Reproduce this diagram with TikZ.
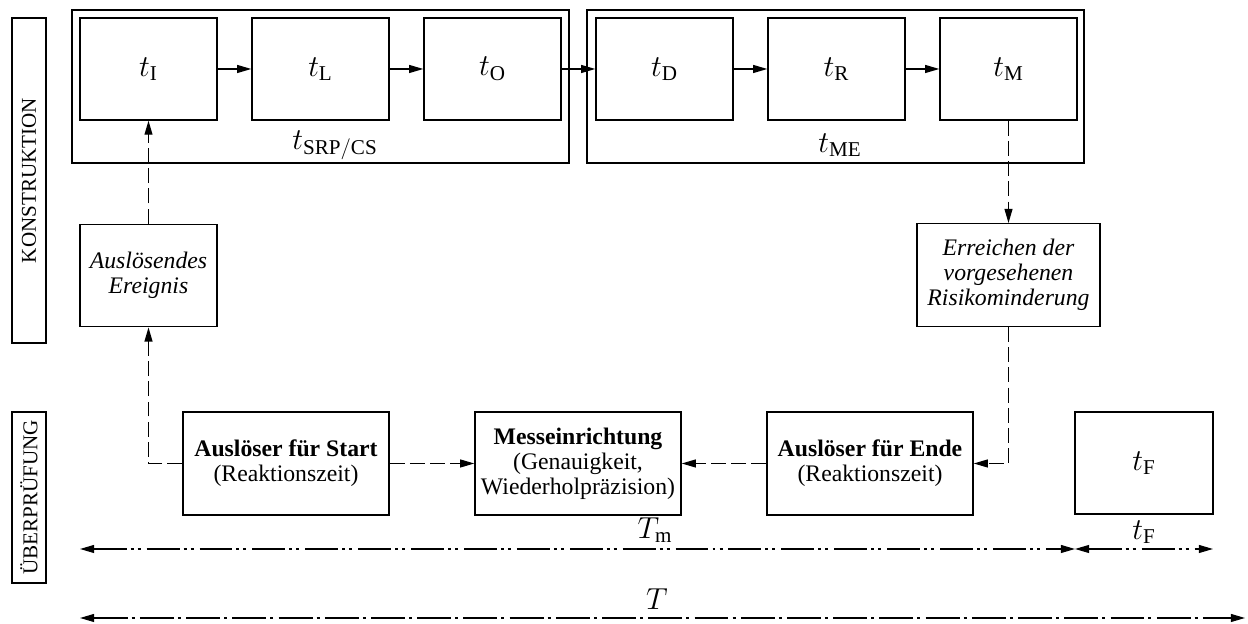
\documentclass[tikz,border=0pt]{standalone}
\usepackage{fontspec}
\setmainfont{Liberation Serif}
\usepackage{tikz}
\usetikzlibrary{
  arrows.meta,
  calc,
  positioning
}

\begin{document}
\begin{tikzpicture}[
  tbox/.style={rectangle, draw, line width=0.8pt, minimum width=2.74cm, minimum height=2.04cm, font=\fontsize{17.28}{20}\selectfont, inner sep=2pt},
  grp/.style={rectangle, draw, line width=0.8pt, minimum width=9.94cm, minimum height=3.06cm},
  evt/.style={rectangle, draw, line width=0.8pt, minimum height=2.05cm, align=center, font=\fontsize{13.5}{14.3}\selectfont\itshape, inner sep=2pt},
  chk/.style={rectangle, draw, line width=0.8pt, minimum width=4.12cm, minimum height=2.06cm, align=center, font=\fontsize{13.5}{14.3}\selectfont, inner sep=2pt},
  lane/.style={rectangle, draw, line width=0.8pt, rotate=90, minimum height=0.68cm, inner sep=1pt, font=\fontsize{12}{14}\selectfont},
  lbl/.style={font=\fontsize{17.28}{20}\selectfont, inner sep=1pt},
  arrow/.style={-{Triangle[length=8pt, width=4.5pt]}, line width=0.7pt},
  dasharrow/.style={arrow, dash pattern=on 8.5pt off 3pt},
  dimline/.style={{Triangle[length=8pt, width=4.5pt]}-{Triangle[length=8pt, width=4.5pt]}, line width=0.7pt},
  dimdots/.style={dimline, dash pattern=on 18.7pt off 2.3pt on 1.7pt off 2.3pt on 1.7pt off 3.4pt},
  dimdot/.style={dimline, dash pattern=on 19.3pt off 2.3pt on 1.7pt off 3pt},
]
\useasboundingbox (0, 0) rectangle (24.96, 12.48);

% Lanes
\node[lane, minimum width=6.5cm] (konst) at (0.58, 8.87) {KONSTRUKTION};
\node[lane, minimum width=3.42cm] (pruef) at (0.58, 2.53) {ÜBERPRÜFUNG};

% Groups
\node[grp] (srp) at (6.41, 10.75) {};
\node[grp] (me) at (16.71, 10.75) {};
\node[lbl] (srp_lbl) at (6.70, 9.58) {$t_{\mathrm{SRP/CS}}$};
\node[lbl] (me_lbl) at (16.80, 9.58) {$t_{\mathrm{ME}}$};

% Time chain
\node[tbox] (t_i) at (2.97, 11.10) {$t_{\mathrm{I}}$};
\node[tbox] (t_l) at (6.41, 11.10) {$t_{\mathrm{L}}$};
\node[tbox] (t_o) at (9.85, 11.10) {$t_{\mathrm{O}}$};
\node[tbox] (t_d) at (13.29, 11.10) {$t_{\mathrm{D}}$};
\node[tbox] (t_r) at (16.73, 11.10) {$t_{\mathrm{R}}$};
\node[tbox] (t_m) at (20.17, 11.10) {$t_{\mathrm{M}}$};

% Events
\node[evt, minimum width=2.74cm] (ausl) at (2.97, 6.97) {Auslösendes\\Ereignis};
\node[evt, minimum width=3.66cm] (erreich) at (20.17, 6.98) {Erreichen der\\vorgesehenen\\Risikominderung};

% Verification
\node[chk] (start) at (5.72, 3.21) {\textbf{Auslöser für Start}\\(Reaktionszeit)};
\node[chk] (messe) at (11.56, 3.21) {\textbf{Messeinrichtung}\\(Genauigkeit,\\Wiederholpräzision)};
\node[chk] (ende) at (17.40, 3.21) {\textbf{Auslöser für Ende}\\(Reaktionszeit)};
\node[tbox, minimum width=2.76cm] (t_f) at (22.88, 3.22) {$t_{\mathrm{F}}$};

% Time spans
\coordinate (tm_a) at (1.60, 1.50);
\coordinate (tm_b) at (21.50, 1.50);
\coordinate (tf_b) at (24.26, 1.50);
\coordinate (tt_a) at (1.60, 0.12);
\coordinate (tt_b) at (24.90, 0.12);
\node[lbl] (tm_lbl) at (13.10, 1.88) {$T_{\mathrm{m}}$};
\node[lbl] (tf_lbl) at (22.88, 1.84) {$t_{\mathrm{F}}$};
\node[lbl] (tt_lbl) at (13.14, 0.50) {$T$};

% Arrows
\draw[arrow] (t_i) -- (t_l);
\draw[arrow] (t_l) -- (t_o);
\draw[arrow] (t_o) -- (t_d);
\draw[arrow] (t_d) -- (t_r);
\draw[arrow] (t_r) -- (t_m);
\draw[dasharrow] (ausl) -- (t_i);
\draw[dasharrow] (start.west) -| (ausl.south);
\draw[dasharrow] (start) -- (messe);
\draw[dasharrow] (t_m) -- (erreich);
\draw[dasharrow] (erreich.south) |- (ende.east);
\draw[dasharrow] (ende) -- (messe);
\draw[dimdots] (tm_a) -- (tm_b);
\draw[dimdots] (tm_b) -- (tf_b);
\draw[dimdot] (tt_a) -- (tt_b);
\end{tikzpicture}
\end{document}
